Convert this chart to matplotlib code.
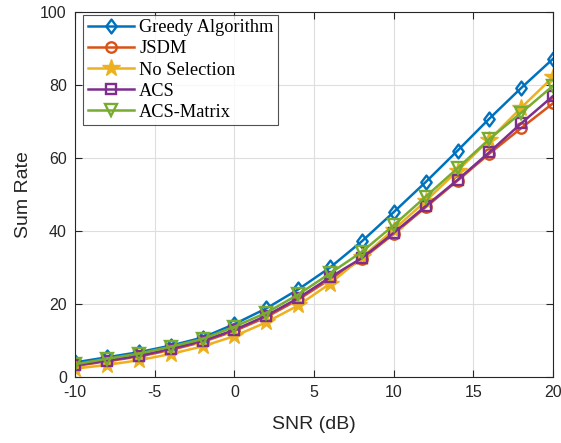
import numpy as np
import matplotlib.pyplot as plt
from matplotlib.path import Path

snr = [-10, -8, -6, -4, -2, 0, 2, 4, 6, 8, 10, 12, 14, 16, 18, 20]
greedy = [4.0, 5.4, 6.8, 8.6, 10.8, 14.5, 18.8, 24.0, 30.0, 37.2, 45.2, 53.4, 62.0, 70.8, 79.2, 87.2]
jsdm = [3.0, 4.3, 5.6, 7.4, 9.6, 12.6, 16.4, 21.2, 26.8, 32.3, 39.2, 46.5, 53.8, 61.2, 68.2, 75.0]
no_sel = [2.3, 3.3, 4.6, 6.3, 8.4, 11.2, 15.0, 19.6, 25.6, 32.8, 40.4, 48.2, 56.5, 65.0, 73.8, 82.2]
acs = [3.2, 4.5, 5.8, 7.7, 9.9, 12.9, 16.8, 21.6, 27.3, 32.6, 39.5, 46.8, 54.0, 61.6, 69.5, 77.0]
acs_matrix = [3.5, 5.0, 6.4, 8.3, 10.4, 13.8, 17.6, 22.6, 28.4, 34.3, 41.6, 49.4, 57.2, 65.2, 72.4, 79.8]

plt.rcParams['font.family'] = 'Liberation Sans'
plt.rcParams['axes.unicode_minus'] = False

# matlab-ish diamond, a bit taller than wide
diamond = Path([(0, 1), (0.75, 0), (0, -1), (-0.75, 0), (0, 1)],
               [Path.MOVETO, Path.LINETO, Path.LINETO, Path.LINETO, Path.CLOSEPOLY])

fig = plt.figure(figsize=(5.61, 4.43), dpi=100)
ax = fig.add_axes([0.134, 0.149, 0.852, 0.824])

lw = 1.8
ax.plot(snr, greedy, color=(0, 0.447, 0.741), lw=lw, marker=diamond, ms=10, mfc='none', mew=1.7, label='Greedy Algorithm')
ax.plot(snr, jsdm, color=(0.85, 0.325, 0.098), lw=lw, marker='o', ms=7.5, mfc='none', mew=1.7, label='JSDM')
ax.plot(snr, no_sel, color=(0.929, 0.694, 0.125), lw=lw, marker='*', ms=13, mew=1, label='No Selection')
ax.plot(snr, acs, color=(0.494, 0.184, 0.556), lw=lw, marker='s', ms=6.5, mfc='none', mew=1.7, label='ACS')
ax.plot(snr, acs_matrix, color=(0.466, 0.674, 0.188), lw=lw, marker='v', ms=8.5, mfc='none', mew=1.7, label='ACS-Matrix')

ax.set_xlim(-10, 20)
ax.set_ylim(0, 100)
ax.set_xticks(np.arange(-10, 21, 5))
ax.set_yticks(np.arange(0, 101, 20))
ax.grid(True, color='#dedede', lw=0.8)
ax.set_axisbelow(True)
ax.tick_params(direction='in', top=True, right=True, labelsize=11.5, colors='#262626', length=5, pad=6)
for sp in ax.spines.values():
    sp.set_color('#262626')
    sp.set_linewidth(0.8)

ax.set_xlabel('SNR (dB)', fontsize=14, color='#262626', labelpad=11)
ax.set_ylabel('Sum Rate', fontsize=14, color='#262626', labelpad=6)

leg = ax.legend(loc='upper left', prop={'family': 'Liberation Serif', 'size': 13.2},
                fancybox=False, edgecolor='#262626', handlelength=2.5,
                borderpad=0.25, labelspacing=0.22, handletextpad=0.3,
                borderaxespad=0, bbox_to_anchor=(0.017, 0.992))
leg.get_frame().set_linewidth(0.8)

fig.savefig('out.png', dpi=100)
